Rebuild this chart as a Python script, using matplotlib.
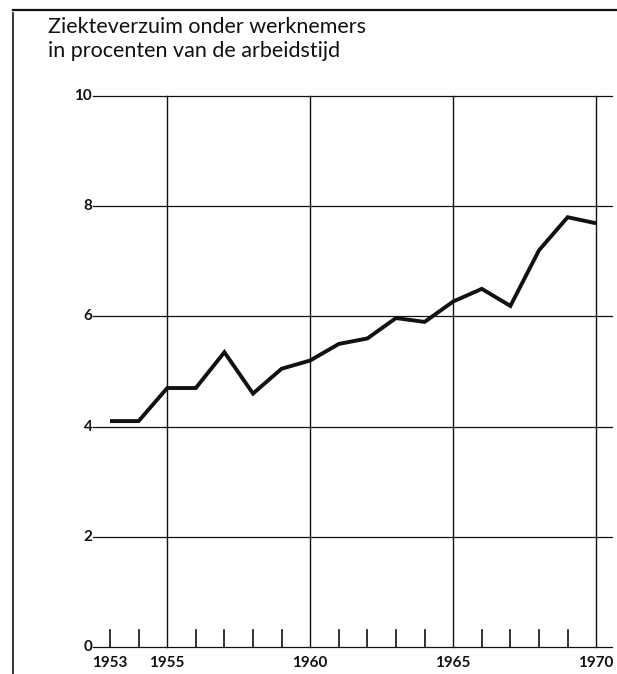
import numpy as np
import matplotlib.pyplot as plt
from matplotlib.lines import Line2D

# ----------------------------
# Data
# ----------------------------
years = [1953, 1954, 1955, 1956, 1957, 1958, 1959, 1960, 1961,
         1962, 1963, 1964, 1965, 1966, 1967, 1968, 1969, 1970]
verzuim = [4.1, 4.1, 4.7, 4.7, 5.35, 4.6, 5.05, 5.2, 5.5,
           5.6, 5.97, 5.9, 6.27, 6.5, 6.19, 7.2, 7.8, 7.69]
grid_years = [1955, 1960, 1965, 1970]
y_levels = [0, 2, 4, 6, 8, 10]
x_labels = [1953, 1955, 1960, 1965, 1970]
title_lines = ['Ziekteverzuim onder werknemers',
               'in procenten van de arbeidstijd']

FONT = 'Lato'
W, H = 617, 674

fig = plt.figure(figsize=(W / 100, H / 100), dpi=100)

# axes placed in pixels: 1953 at ~110px, 28.6 px per year; y 0 at 647px, 10 at 96px
x0, x1 = 1952.2, 1970.6
left_px = 110 - (1953 - x0) * 28.6
right_px = left_px + (x1 - x0) * 28.6
bot_px, top_px = 647, 96
ax = fig.add_axes([left_px / W, (H - bot_px) / H,
                   (right_px - left_px) / W, (bot_px - top_px) / H])
ax.set_xlim(x0, x1)
ax.set_ylim(0, 10)
ax.axis('off')

ink = '#111111'

# horizontal grid lines
for lv in y_levels:
    ax.plot([1952.42, 1970.55], [lv, lv], color=ink, lw=0.9, clip_on=False)
    ax.text(1952.38, lv, str(lv), ha='right', va='center', fontsize=11,
            fontfamily=FONT, fontweight='bold', color=ink)

# vertical grid lines
for yr in grid_years:
    ax.plot([yr, yr], [0, 10], color=ink, lw=1.0, clip_on=False)

# small year ticks
for yr in years:
    if yr not in grid_years:
        ax.plot([yr, yr], [0, 0.3], color=ink, lw=1.2, clip_on=False)

for yr in x_labels:
    ax.text(yr, -0.17, str(yr), ha='center', va='top', fontsize=11,
            fontfamily=FONT, fontweight='bold', color=ink)

# data line
ax.plot(years, verzuim, color=ink, lw=2.8, solid_joinstyle='miter',
        solid_capstyle='butt', clip_on=False)

# frame lines of the page
fig.add_artist(Line2D([13 / W, 1.0], [1 - 10 / H, 1 - 10 / H],
                      color=ink, lw=1.6, transform=fig.transFigure))
fig.add_artist(Line2D([12.5 / W, 12.5 / W], [0, 1 - 13 / H],
                      color=ink, lw=1.2, transform=fig.transFigure))

fig.text(48 / W, 1 - 33 / H, title_lines[0], ha='left', va='baseline',
         fontsize=15.5, fontfamily=FONT, color=ink)
fig.text(48 / W, 1 - 57 / H, title_lines[1], ha='left', va='baseline',
         fontsize=15.5, fontfamily=FONT, color=ink)

plt.savefig('out.png', dpi=100)
